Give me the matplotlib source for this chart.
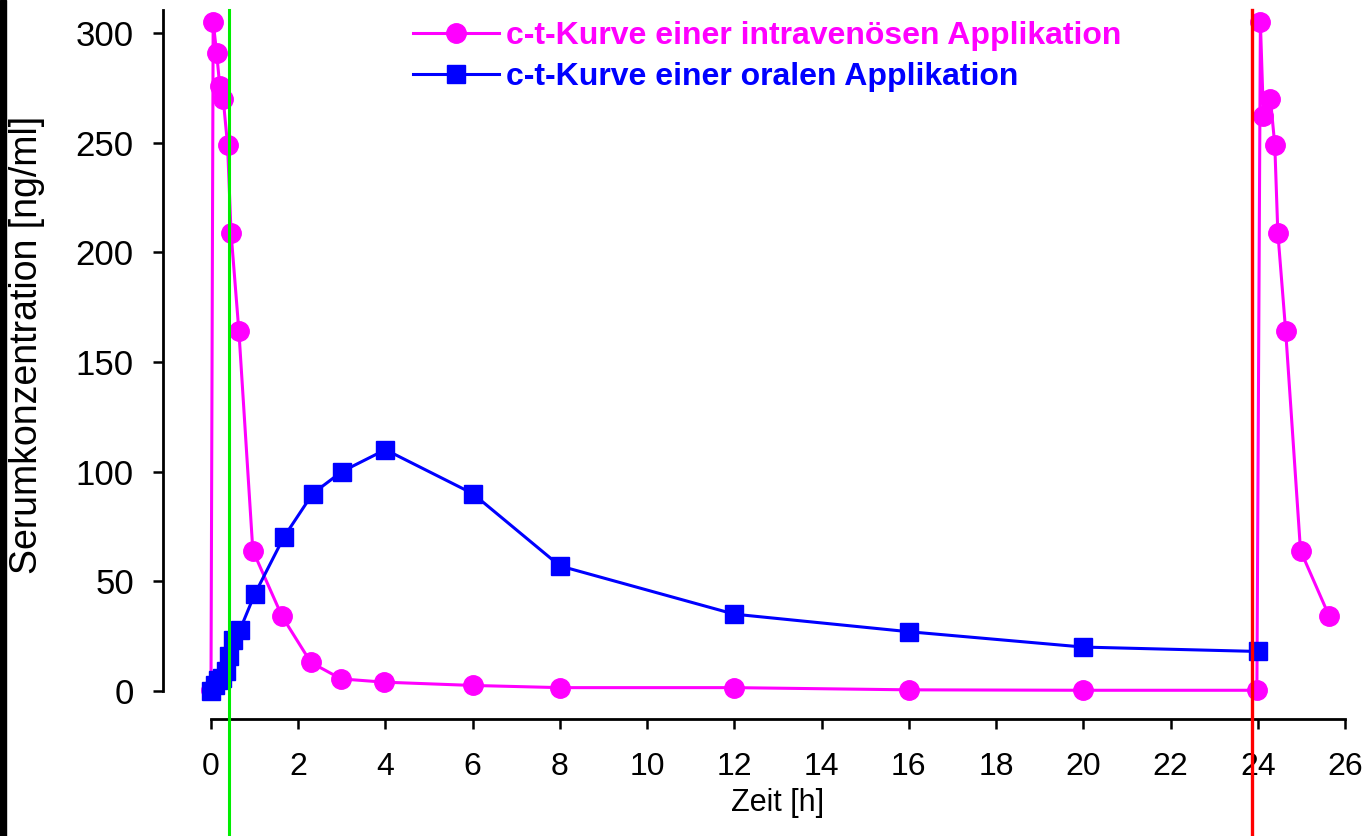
import matplotlib
matplotlib.use("Agg")
import matplotlib.pyplot as plt
from matplotlib.patches import Rectangle

plt.rcParams['font.family'] = ['Liberation Sans', 'DejaVu Sans']

# c-t-Kurve intravenös (zwei Gaben)
t_iv = [0, 0.05, 0.13, 0.2, 0.28, 0.38, 0.46, 0.64, 0.96, 1.63, 2.29, 2.98, 3.97,
        6, 8, 12, 16, 20, 23.98, 24.06, 24.13, 24.29, 24.39, 24.46, 24.64, 24.98, 25.64]
c_iv = [0.5, 305, 291, 276, 270, 249, 209, 164, 64, 34, 13, 5.5, 4,
        2.5, 1.5, 1.5, 0.5, 0.3, 0.3, 305, 262, 270, 249, 209, 164, 64, 34]

# c-t-Kurve oral
t_oral = [0, 0.083, 0.167, 0.25, 0.333, 0.417, 0.5, 0.667, 1, 1.667, 2.333, 3, 4,
          6, 8, 12, 16, 20, 24]
c_oral = [0, 2.5, 5, 6, 9, 16, 23, 28, 44, 70, 90, 100, 110,
          90, 57, 35, 27, 20, 18]

# Markierungen
t_gruen = 0.42
t_rot = 23.87

x_ticks = list(range(0, 27, 2))
y_ticks = list(range(0, 301, 50))

fig = plt.figure(figsize=(13.64, 8.36), dpi=100)
ax = fig.add_axes([163 / 1364, 1 - 719 / 836, 1182 / 1364, 709 / 836])

ax.plot(t_iv, c_iv, color='#ff00ff', lw=2.2, marker='o', ms=14, mec='#ff00ff',
        label='c-t-Kurve einer intravenösen Applikation', zorder=3)
ax.plot(t_oral, c_oral, color='#0000ff', lw=2.2, marker='s', ms=13, mec='#0000ff',
        label='c-t-Kurve einer oralen Applikation', zorder=4)

ax.axvline(t_gruen, ymin=-0.3, ymax=1, color='#00ee00', lw=2.2, clip_on=False, zorder=5)
ax.axvline(t_rot, ymin=-0.3, ymax=1, color='#ff0000', lw=2.4, clip_on=False, zorder=5)

ax.set_xlim(-1.1, 26)
ax.set_ylim(-12.8, 310.5)
ax.set_xticks(x_ticks)
ax.set_yticks(y_ticks)
ax.spines['top'].set_visible(False)
ax.spines['right'].set_visible(False)
ax.spines['left'].set_bounds(0, 310.5)
ax.spines['bottom'].set_bounds(0, 26)
for s in ('left', 'bottom'):
    ax.spines[s].set_linewidth(2)
ax.tick_params(axis='both', direction='out', length=7, width=1.8)
ax.tick_params(axis='y', labelsize=25, pad=14)
ax.tick_params(axis='x', labelsize=23, pad=17)

ax.set_xlabel('Zeit [h]', fontsize=22)
ax.xaxis.set_label_coords(0.52, -0.098)
ax.set_ylabel('Serumkonzentration [ng/ml]', fontsize=27)
ax.yaxis.set_label_coords(-0.1, 0.527)

leg = ax.legend(loc='upper left', bbox_to_anchor=(413 / 1364, 1 - 21 / 836),
                bbox_transform=fig.transFigure, frameon=False,
                prop={'size': 23, 'weight': 'bold'}, labelcolor='linecolor',
                handlelength=2.7, handletextpad=0.2, labelspacing=0.36,
                borderaxespad=0, borderpad=0)

# schwarzer Rand links
fig.patches.append(Rectangle((0, 0), 6 / 1364, 1, transform=fig.transFigure,
                             color='black', zorder=10))

fig.savefig('out.png', dpi=100)
